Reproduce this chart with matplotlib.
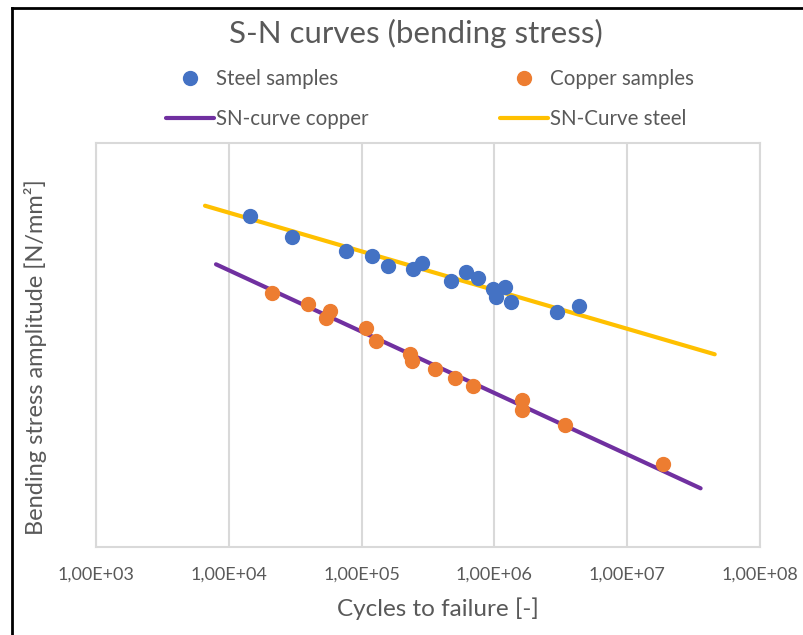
import matplotlib.pyplot as plt
import matplotlib.ticker as mticker
from matplotlib.lines import Line2D

# ---- data (stress in arbitrary units, y axis has no labels) ----
steel_cycles = [14450, 30070, 76700, 120400, 157300, 245000, 285000, 473000,
                614000, 757000, 982000, 1202000, 1023000, 1334000, 2960000, 4310000]
steel_stress = [327.7, 306.9, 292.8, 288.4, 278.5, 275.0, 281.5, 263.7,
                272.0, 266.3, 255.7, 257.1, 247.2, 242.6, 232.4, 238.3]

copper_cycles = [21040, 39270, 57800, 54200, 108500, 127700, 231400, 239700,
                 355000, 502000, 693500, 1606000, 1606000, 3400000, 18500000]
copper_stress = [251.8, 240.6, 233.7, 227.0, 217.1, 204.3, 191.1, 184.5,
                 176.2, 167.0, 159.1, 145.5, 135.3, 120.5, 82.2]

# SN-curve end points
sn_steel_cycles = [6620, 45600000]
sn_steel_stress = [337.9, 190.8]
sn_copper_cycles = [8010, 35700000]
sn_copper_stress = [279.9, 58.1]

xticks = [1e3, 1e4, 1e5, 1e6, 1e7, 1e8]
xtick_labels = ["1,00E+03", "1,00E+04", "1,00E+05", "1,00E+06", "1,00E+07", "1,00E+08"]

plt.rcParams["font.family"] = ["Lato", "DejaVu Sans"]
text_color = "#595959"
grid_color = "#D9D9D9"

fig = plt.figure(figsize=(8.04, 6.35), dpi=100)
ax = fig.add_axes([96 / 804, 1 - 547 / 635, 664 / 804, 404 / 635])

ax.plot(steel_cycles, steel_stress, linestyle="none", marker="o", markersize=10,
        color="#4472C4", label="Steel samples", zorder=4)
ax.plot(copper_cycles, copper_stress, linestyle="none", marker="o", markersize=10,
        color="#ED7D31", label="Copper samples", zorder=4)
ax.plot(sn_copper_cycles, sn_copper_stress, color="#7030A0", linewidth=3,
        solid_capstyle="round", label="SN-curve copper", zorder=3)
ax.plot(sn_steel_cycles, sn_steel_stress, color="#FFC000", linewidth=3,
        solid_capstyle="round", label="SN-Curve steel", zorder=3)

ax.set_xscale("log")
ax.set_xlim(1e3, 1e8)
ax.set_ylim(0, 400)
ax.xaxis.set_major_locator(mticker.FixedLocator(xticks))
ax.xaxis.set_major_formatter(mticker.FixedFormatter(xtick_labels))
ax.xaxis.set_minor_locator(mticker.NullLocator())
ax.set_yticks([])
ax.tick_params(axis="x", length=0, pad=14, labelsize=13, labelcolor=text_color)
ax.grid(True, axis="x", color=grid_color, linewidth=1.5, zorder=0)
for sp in ax.spines.values():
    sp.set_color(grid_color)
    sp.set_linewidth(1.5)

ax.set_xlabel("Cycles to failure [-]", fontsize=17.5, color=text_color)
ax.set_ylabel("Bending stress amplitude [N/mm²]", fontsize=17, color=text_color)
ax.xaxis.set_label_coords((438 - 96) / 664, -(597 - 547) / 404)
ax.yaxis.set_label_coords((47 - 96) / 664, (547 - 357) / 404)

fig.text(416 / 804, 1 - 33 / 635, "S-N curves (bending stress)", fontsize=22.5,
         color=text_color, ha="center", va="center")

# legend (column-wise fill)
h, l = ax.get_legend_handles_labels()
order = [0, 2, 1, 3]
fig.legend([h[i] for i in order], [l[i] for i in order], ncol=2, frameon=False,
           loc="center", bbox_to_anchor=(430 / 804, 1 - 99 / 635),
           fontsize=14.8, labelcolor=text_color, handlelength=2.33,
           handletextpad=0.1, columnspacing=6.4, labelspacing=1.0, numpoints=1)

# screenshot border (left and top)
fig.add_artist(Line2D([12 / 804, 12 / 804], [0, 1 - 8 / 635], color="black", linewidth=2))
fig.add_artist(Line2D([12 / 804, 1], [1 - 8 / 635, 1 - 8 / 635], color="black", linewidth=2))

fig.savefig("out.png", dpi=100)
plt.close(fig)
